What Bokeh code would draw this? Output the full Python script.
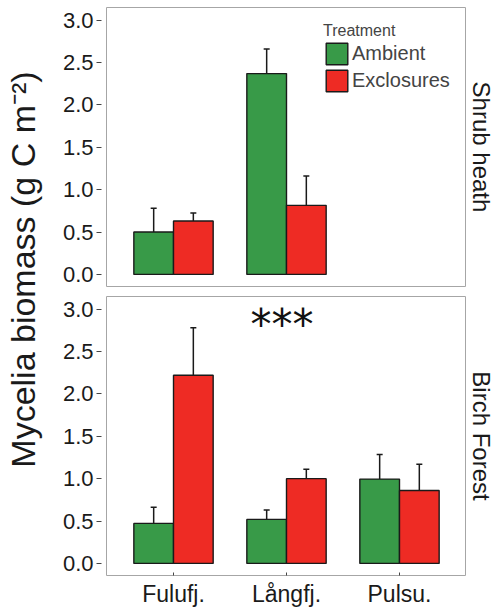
import math
from bokeh.plotting import figure
from bokeh.models import (ColumnDataSource, FactorRange, Range1d, FixedTicker, Whisker,
                          TeeHead, Label, NumeralTickFormatter)
from bokeh.transform import dodge
from bokeh.layouts import row, column
from bokeh.embed import file_html
from bokeh.resources import INLINE
from bokeh.core.properties import value

# ---------------- data ----------------
sites = ["Fulufj.", "Långfj.", "Pulsu."]
treatments = ["Ambient", "Exclosures"]
panel_names = ["Shrub heath", "Birch Forest"]

shrub_sites = ["Fulufj.", "Långfj."]
shrub_ambient = [0.50, 2.37]
shrub_ambient_se = [0.28, 0.29]
shrub_exclosures = [0.63, 0.815]
shrub_exclosures_se = [0.095, 0.345]

birch_sites = ["Fulufj.", "Långfj.", "Pulsu."]
birch_ambient = [0.472, 0.519, 0.995]
birch_ambient_se = [0.19, 0.11, 0.29]
birch_exclosures = [2.22, 1.00, 0.86]
birch_exclosures_se = [0.56, 0.11, 0.31]

y_ticks = [0.0, 0.5, 1.0, 1.5, 2.0, 2.5, 3.0]
y_title = "Mycelia biomass (g C m\u207b\u00b2)"
legend_title = "Treatment"

sig_site = ["Långfj."]
sig_y = [2.82]
sig_text = ["***"]

# ---------------- style ----------------
GREEN = "#389a48"
RED = "#ee2b24"
EDGE = "#1a1a1a"
FONT = "Liberation Sans"
BAR_W = 0.351
OFF = BAR_W / 2
PANEL_W = 416
TOTAL_H = 611

x_range = FactorRange(factors=sites, range_padding=0.062)


def make_panel(height, mb_top, mb_bottom, site_list, amb, amb_se, exc, exc_se,
               show_x, with_legend):
    p = figure(width=PANEL_W, height=height, x_range=x_range, y_range=Range1d(-0.143, 3.15),
               output_backend="svg", toolbar_location=None,
               min_border_left=56, min_border_right=0,
               min_border_top=mb_top, min_border_bottom=mb_bottom)
    src = ColumnDataSource(dict(
        site=site_list,
        amb=amb, amb_up=[m + s for m, s in zip(amb, amb_se)],
        exc=exc, exc_up=[m + s for m, s in zip(exc, exc_se)],
    ))
    for col, off, color, lab in (("amb", -OFF, GREEN, treatments[0]),
                                 ("exc", OFF, RED, treatments[1])):
        kw = dict(legend_label=lab) if with_legend else {}
        p.vbar(x=dodge("site", off, range=p.x_range), top=col, bottom=0, width=BAR_W,
               fill_color=color, line_color=EDGE, line_width=1.4, source=src, **kw)
        w = Whisker(base=dodge("site", off, range=p.x_range), lower=col, upper=col + "_up",
                    source=src, line_color=EDGE, line_width=1.5,
                    upper_head=TeeHead(size=6, line_color=EDGE, line_width=1.5),
                    lower_head=None)
        p.add_layout(w)

    p.xgrid.visible = False
    p.ygrid.visible = False
    p.outline_line_color = "#a6a6a6"
    p.outline_line_width = 1
    p.background_fill_color = "white"
    p.border_fill_color = "white"

    ya = p.yaxis[0]
    ya.ticker = FixedTicker(ticks=y_ticks)
    ya.formatter = NumeralTickFormatter(format="0.0")
    ya.axis_line_color = None
    ya.major_tick_in = -5
    ya.major_tick_out = 10
    ya.minor_tick_line_color = None
    ya.major_tick_line_color = "#444444"
    ya.major_label_standoff = 3
    ya.major_label_text_font = FONT
    ya.major_label_text_font_size = "22px"
    ya.major_label_text_color = "#1a1a1a"

    xa = p.xaxis[0]
    if show_x:
        xa.axis_line_color = None
        xa.major_tick_in = 3
        xa.major_tick_out = 0
        xa.major_tick_line_color = "#444444"
        xa.major_label_standoff = 5
        xa.major_label_text_font = FONT
        xa.major_label_text_font_size = "23px"
        xa.major_label_text_color = "#1a1a1a"
    else:
        xa.visible = False

    if with_legend:
        leg = p.legend[0]
        leg.location = (217, 192)
        leg.title = legend_title
        leg.title_text_font = FONT
        leg.title_text_font_size = "16px"
        leg.title_text_font_style = "normal"
        leg.title_standoff = 0
        leg.label_text_font = FONT
        leg.label_text_font_size = "20px"
        leg.glyph_width = 27
        leg.glyph_height = 27
        leg.label_height = 27
        leg.spacing = 0
        leg.padding = 0
        leg.label_standoff = 2
        leg.border_line_color = None
        leg.background_fill_alpha = 0
    return p


top = make_panel(291, 7, 5, shrub_sites, shrub_ambient, shrub_ambient_se,
                 shrub_exclosures, shrub_exclosures_se, show_x=False, with_legend=True)
bottom = make_panel(320, 5, 36, birch_sites, birch_ambient, birch_ambient_se,
                    birch_exclosures, birch_exclosures_se, show_x=True, with_legend=False)

sig_src = ColumnDataSource(dict(site=sig_site, y=sig_y, text=sig_text))
bottom.text(x=dodge("site", -0.04, range=bottom.x_range), y="y", text="text", source=sig_src,
            text_font=value("DejaVu Sans"), text_font_size="42px", text_align="center",
            text_baseline="alphabetic", text_color="#111111")


def text_column(width, labels):
    f = figure(width=width, height=TOTAL_H, x_range=Range1d(0, 1), y_range=Range1d(0, 1),
               x_axis_type=None, y_axis_type=None, output_backend="svg",
               toolbar_location=None, min_border=0)
    f.outline_line_color = None
    f.xgrid.visible = False
    f.ygrid.visible = False
    for (x, y, txt, ang, size) in labels:
        f.add_layout(Label(x=x, y=y, x_units="screen", y_units="screen", text=txt,
                           angle=ang, text_align="center", text_baseline="middle",
                           text_font=FONT, text_font_size=size, text_color="#1a1a1a"))
    return f


ylab = text_column(50, [(22, 342, y_title, math.pi / 2, "34px")])
strips = text_column(30, [(15, 464.5, panel_names[0], -math.pi / 2, "24px"),
                          (15, 175.5, panel_names[1], -math.pi / 2, "24px")])

layout = row(ylab, column(top, bottom), strips)
open("out.html", "w").write(file_html(layout, INLINE))
